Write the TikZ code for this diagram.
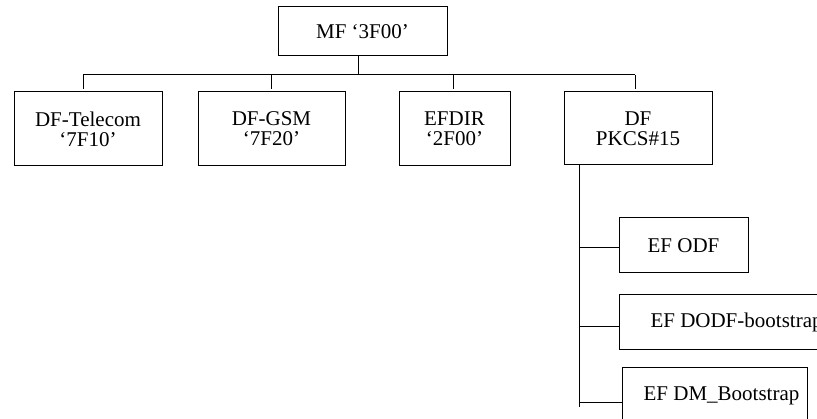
\documentclass[tikz,border=0pt]{standalone}
\usepackage{fontspec}
\setmainfont{Liberation Serif}
\begin{document}
\begin{tikzpicture}[x=1pt,y=-1pt,
  box/.style={draw, line width=1pt, align=center, inner sep=0pt,
    font=\fontsize{21}{20}\selectfont},
  conn/.style={line width=1pt}]
\useasboundingbox (0,0) rectangle (817,419);
\fill[white] (0,0) rectangle (817,419);
\clip (0,0) rectangle (817,419);
% boxes
\node[box, minimum width=169pt, minimum height=49pt] (mf) at (362.5,31.5) {MF ‘3F00’};
\node[box, minimum width=148pt, minimum height=74pt] (tel) at (88,129) {DF-Telecom\\‘7F10’};
\node[box, minimum width=147pt, minimum height=74pt] (gsm) at (271.5,129) {DF-GSM\\‘7F20’};
\node[box, minimum width=111pt, minimum height=74pt] (efdir) at (454.5,129) {EFDIR\\‘2F00’};
\node[box, minimum width=148pt, minimum height=73pt] (pkcs) at (638,128.5) {DF\\PKCS\#15};
\node[box, minimum width=129pt, minimum height=55pt] (odf) at (683.5,245.5) {EF ODF};
\node[box, anchor=west, minimum height=55pt, inner xsep=31pt] (dodf) at (619,322.5) {EF DODF-bootstrap\hspace*{40pt}};
\node[box, minimum width=185pt, minimum height=55pt] (dm) at (714.5,395.5) {\hspace*{14pt}EF DM\_Bootstrap};
% top tree
\coordinate (bus) at (0,75);
\coordinate (mfdrop) at ([xshift=-4.5pt]mf.south);
\coordinate (d1) at ([xshift=-5pt]tel.north);
\coordinate (d2) at (gsm.north);
\coordinate (d3) at ([xshift=-1.5pt]efdir.north);
\coordinate (d4) at ([xshift=-3pt]pkcs.north);
\draw[conn] (mfdrop) -- (mfdrop |- bus);
\draw[conn] (d1 |- bus) -- (d4 |- bus);
\foreach \d in {d1,d2,d3,d4} \draw[conn] (\d |- bus) -- ([yshift=2pt]\d);
% pkcs subtree
\coordinate (trunk) at ([xshift=-59pt]pkcs.south);
\coordinate (trunkend) at (579,407);
\draw[conn] (trunk) -- (trunkend);
\coordinate (b1) at ([yshift=-2.5pt]odf.west);
\coordinate (b2) at ([yshift=-4.5pt]dodf.west);
\coordinate (b3) at ([yshift=-7.5pt]dm.west);
\foreach \b in {b1,b2,b3} \draw[conn] (\b -| trunk) -- (\b);
\end{tikzpicture}
\end{document}
